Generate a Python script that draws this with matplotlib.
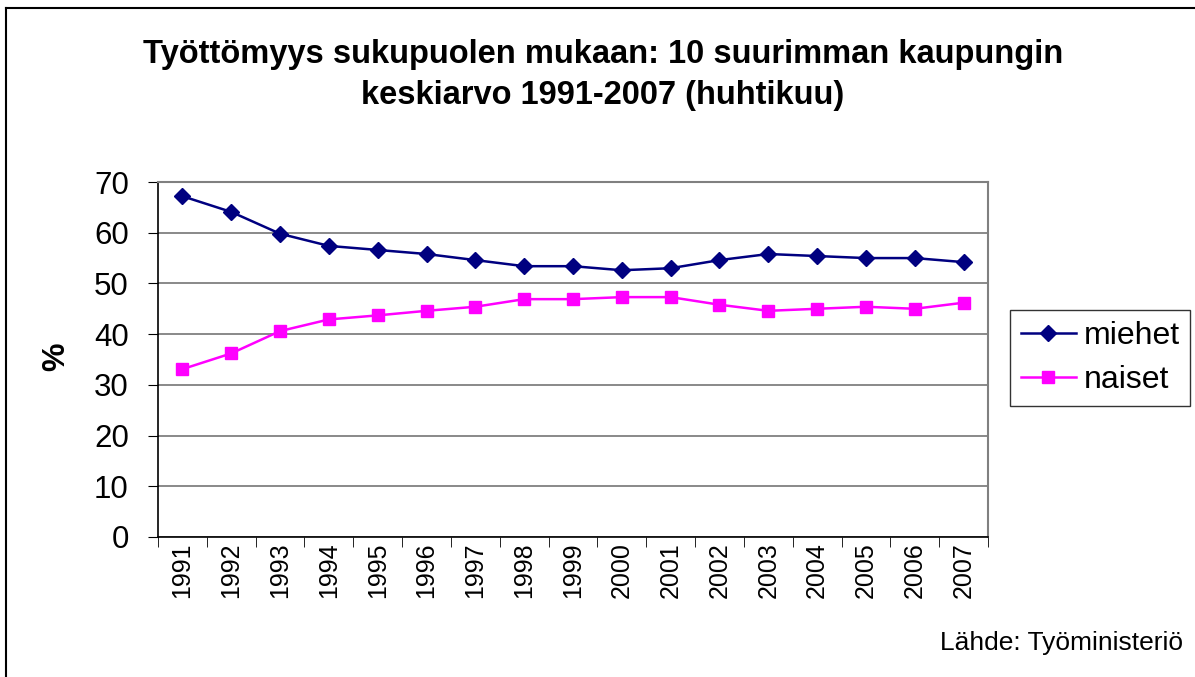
import matplotlib
matplotlib.use("Agg")
import matplotlib.pyplot as plt
from matplotlib.lines import Line2D

years = ["1991", "1992", "1993", "1994", "1995", "1996", "1997", "1998", "1999",
         "2000", "2001", "2002", "2003", "2004", "2005", "2006", "2007"]
miehet = [67.2, 64.1, 59.8, 57.4, 56.6, 55.8, 54.6, 53.4, 53.4,
          52.6, 53.0, 54.6, 55.8, 55.4, 55.0, 55.0, 54.2]
naiset = [33.1, 36.2, 40.6, 42.9, 43.7, 44.6, 45.4, 46.9, 46.9,
          47.3, 47.3, 45.8, 44.6, 45.0, 45.4, 45.0, 46.2]
yticks = [0, 10, 20, 30, 40, 50, 60, 70]

plt.rcParams['font.family'] = ['Liberation Sans', 'DejaVu Sans']

W, H = 1195, 677
fig = plt.figure(figsize=(W / 100, H / 100), dpi=100)
ax = fig.add_axes([158 / W, 1 - 537 / H, (988 - 158) / W, (537 - 182) / H])

x = list(range(len(years)))
ax.plot(x, miehet, color="#000080", marker="D", markersize=8, linewidth=1.8, label="miehet")
ax.plot(x, naiset, color="#FF00FF", marker="s", markersize=8, linewidth=1.8, label="naiset")

ax.set_xlim(-0.5, len(years) - 0.5)
ax.set_ylim(0, 70)
ax.set_yticks(yticks)
ax.set_yticklabels([str(v) for v in yticks], fontsize=22.5)
ax.set_xticks(x)
ax.set_xticklabels(years, rotation=90, fontsize=18)
ax.tick_params(axis="x", length=0, pad=4)
ax.set_xticks([i - 0.5 for i in range(len(years) + 1)], minor=True)
ax.tick_params(axis="x", which="minor", length=7, direction="out", color="black")
ax.tick_params(axis="y", length=7, direction="out", pad=14, color="black")
ax.grid(axis="y", color="#808080", linewidth=1.3)
ax.set_axisbelow(True)
for s in ["top", "right"]:
    ax.spines[s].set_color("#808080")
    ax.spines[s].set_linewidth(1.5)
for s in ["left", "bottom"]:
    ax.spines[s].set_color("black")
    ax.spines[s].set_linewidth(1.2)

fig.text(56 / W, 1 - 357 / H, "%", rotation=90, ha="center", va="center",
         fontsize=23, fontweight="bold")

leg = ax.legend(loc="center left", bbox_to_anchor=(1010 / W, 1 - 358 / H),
                bbox_transform=fig.transFigure, fontsize=23, frameon=True,
                fancybox=False, edgecolor="black", borderpad=0.33,
                handlelength=1.75, handletextpad=0.22, labelspacing=0.45,
                borderaxespad=0)
leg.get_frame().set_linewidth(1.0)

fig.text(603 / W, 1 - 75 / H,
         "Työttömyys sukupuolen mukaan: 10 suurimman kaupungin\nkeskiarvo 1991-2007 (huhtikuu)",
         ha="center", va="center", fontsize=23.5, fontweight="bold", linespacing=1.42)

fig.text(1183 / W, 1 - 643 / H, "Lähde: Työministeriö", ha="right", va="center", fontsize=19)

fig.add_artist(Line2D([6 / W, 6 / W], [0, 1 - 8 / H], transform=fig.transFigure,
                      color="black", linewidth=1.5))
fig.add_artist(Line2D([6 / W, 1], [1 - 8 / H, 1 - 8 / H], transform=fig.transFigure,
                      color="black", linewidth=1.5))

fig.savefig("out.png", dpi=100)
